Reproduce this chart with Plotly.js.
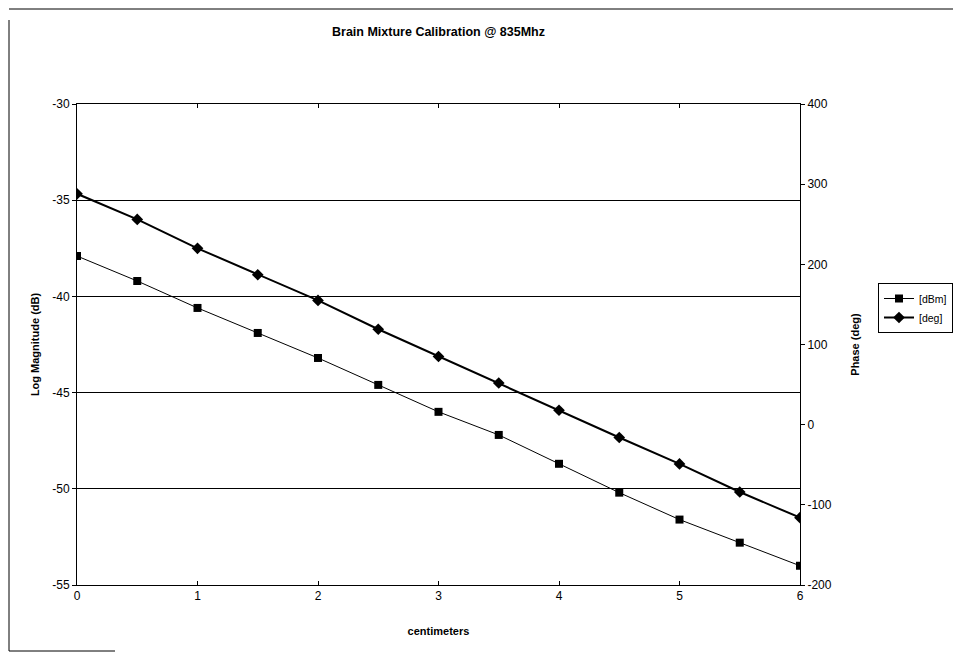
<!DOCTYPE html>
<html>
<head>
<meta charset="utf-8">
<script src="https://cdn.plot.ly/plotly-3.0.1.min.js"></script>
<style>html,body{margin:0;padding:0;background:#fff;overflow:hidden;}#chart{width:953px;height:655px;}</style>
</head>
<body>
<div id="chart"></div>
<script>
const centimeters = [0, 0.5, 1, 1.5, 2, 2.5, 3, 3.5, 4, 4.5, 5, 5.5, 6];
const magnitudeDbm = [-37.9, -39.2, -40.6, -41.9, -43.2, -44.6, -46.0, -47.2, -48.7, -50.2, -51.6, -52.8, -54.0];
const phaseDeg = [288, 256, 220, 187, 155, 119, 85, 52, 18, -16, -49, -84, -116];
const seriesNames = ['[dBm]', '[deg]'];
const xTicks = [0, 1, 2, 3, 4, 5, 6];
const yTicks = [-55, -50, -45, -40, -35, -30];
const yTickLabels = ['-55', '-50', '-45', '-40', '-35', '-30'];
const y2Ticks = [-200, -100, 0, 100, 200, 300, 400];
const y2TickLabels = ['-200', '-100', '0', '100', '200', '300', '400'];

const W = 953, H = 655;
const L = 77, R = 800, T = 104, B = 585;
const px = v => (v - L) / (R - L);
const py = v => (B - v) / (B - T);

const traces = [
  {
    x: centimeters, y: magnitudeDbm, name: seriesNames[0], yaxis: 'y',
    mode: 'lines+markers', type: 'scatter',
    line: {color: '#000', width: 1},
    marker: {symbol: 'square', size: 8, color: '#000'}
  },
  {
    x: centimeters, y: phaseDeg, name: seriesNames[1], yaxis: 'y2',
    mode: 'lines+markers', type: 'scatter',
    line: {color: '#000', width: 2},
    marker: {symbol: 'diamond', size: 9, color: '#000'}
  }
];

const FAM = 'Arial, Liberation Sans, sans-serif';
const tickFont = {family: FAM, size: 12, color: '#000'};
const titleFont = {family: FAM, size: 11, color: '#000', weight: 'bold'};

const layout = {
  width: W, height: H,
  margin: {l: L, r: W - R, t: T, b: H - B, pad: 0, autoexpand: false},
  paper_bgcolor: '#fff', plot_bgcolor: '#fff',
  font: tickFont,
  title: {
    text: '<b>Brain Mixture Calibration @ 835Mhz</b>',
    font: {family: FAM, size: 12.5, color: '#000'},
    x: 0.5, xref: 'paper', xanchor: 'center',
    y: 1 - 32 / H, yref: 'container', yanchor: 'middle'
  },
  showlegend: true,
  legend: {
    x: 878 / W, y: 1 - 283 / H, xref: 'container', yref: 'container',
    xanchor: 'left', yanchor: 'top',
    bordercolor: '#000', borderwidth: 1, bgcolor: '#fff',
    font: {family: FAM, size: 10.5, color: '#000'},
    tracegroupgap: 0, itemwidth: 30
  },
  xaxis: {
    range: [0, 6], tickmode: 'array', tickvals: xTicks,
    showgrid: false, zeroline: false,
    showline: true, linecolor: '#000', linewidth: 1, mirror: 'ticks',
    ticks: 'inside', ticklen: 4, tickcolor: '#000',
    tickfont: tickFont,
    title: {text: '<b>centimeters</b>', font: titleFont, standoff: 24}
  },
  yaxis: {
    range: [-55, -30], tickmode: 'array', tickvals: yTicks, ticktext: yTickLabels,
    showgrid: true, gridcolor: '#000', gridwidth: 1, zeroline: false,
    showline: true, linecolor: '#000', linewidth: 1,
    ticks: 'outside', ticklen: 4, tickcolor: '#000',
    tickfont: tickFont,
    title: {text: '<b>Log Magnitude (dB)</b>', font: titleFont, standoff: 10}
  },
  yaxis2: {
    range: [-200, 400], tickmode: 'array', tickvals: y2Ticks, ticktext: y2TickLabels,
    overlaying: 'y', side: 'right',
    showgrid: false, zeroline: false,
    showline: true, linecolor: '#000', linewidth: 1,
    ticks: 'outside', ticklen: 4, tickcolor: '#000',
    tickfont: tickFont,
    title: {text: '<b>Phase (deg)</b>', font: titleFont, standoff: 20}
  },
  shapes: [
    {type: 'line', xref: 'paper', yref: 'paper', x0: px(9), x1: px(953), y0: py(9), y1: py(9), line: {color: '#000', width: 1}},
    {type: 'line', xref: 'paper', yref: 'paper', x0: px(9), x1: px(9), y0: py(20), y1: py(651), line: {color: '#000', width: 1}},
    {type: 'line', xref: 'paper', yref: 'paper', x0: px(9), x1: px(115), y0: py(651), y1: py(651), line: {color: '#000', width: 1}}
  ]
};

Plotly.newPlot('chart', traces, layout, {displayModeBar: false, staticPlot: true});
</script>
</body>
</html>
